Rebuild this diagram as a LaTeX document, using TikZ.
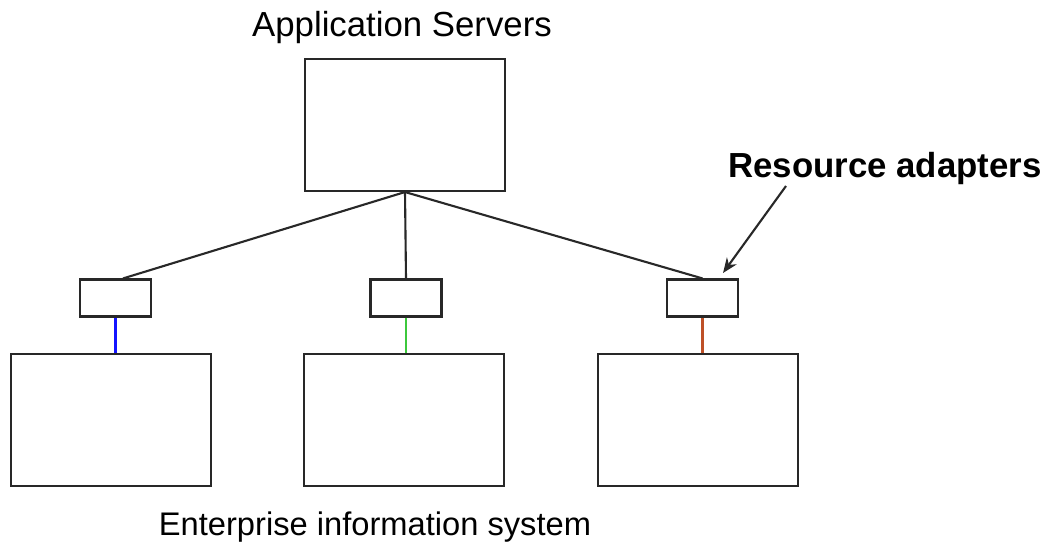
\documentclass[tikz,border=0pt]{standalone}
\usepackage{fontspec}
\setmainfont{Liberation Sans}
\usepackage{xcolor}
\usetikzlibrary{shapes,arrows,arrows.meta}

\definecolor{linkgreen}{RGB}{60,200,60}
\definecolor{linkbrown}{RGB}{190,80,40}
\definecolor{linkblue}{RGB}{20,20,255}
\definecolor{boxline}{RGB}{40,40,40}

\begin{document}
\begin{tikzpicture}[x=0.02cm, y=-0.02cm,
    bigbox/.style={rectangle, draw = boxline, line width=1.2pt, minimum width=4cm, minimum height=2.64cm, inner sep=0pt},
    adapter/.style={rectangle, draw = boxline, line width=1.2pt, minimum width=1.42cm, minimum height=0.74cm, inner sep=0pt},
    caption/.style={anchor=base, font=\fontsize{19.8}{23}\selectfont}]
    		\useasboundingbox (0,0) rectangle (1048,550);
    		\node (app)[bigbox] at (405,125) {};
    		\node (appl)[caption] at (402,37) {Application Servers};
    		
        	\node (ra1)[adapter] at (115.5,298) {};
        	\node (ra2)[adapter] at (406,298) {};
        	\node (ra3)[adapter] at (702.5,298) {};
        	\node (ral)[caption, font=\fontsize{19.8}{23}\selectfont\bfseries] at (885,178) {Resource adapters};
        	
        	\node (eis1)[bigbox] at (111,420) {};
        	\node (eis2)[bigbox] at (404,420) {};
        	\node (eis3)[bigbox] at (698,420) {};
        	\node (eisl)[caption, font=\fontsize{18.6}{23}\selectfont] at (375,535) {Enterprise information system};
        	
        	\coordinate (tail) at (786,186);
        	\coordinate (head) at (723,273);
        	
        	\draw[line width=1.2pt, boxline] (app.south) -- ([xshift=0.15cm]ra1.north);
        	\draw[line width=1.2pt, boxline] (app.south) -- (ra2.north);
        	\draw[line width=1.2pt, boxline] (app.south) -- (ra3.north);
        	\draw[line width=1.2pt, linkblue] (ra1.south) -- (ra1.south |- eis1.north);
        	\draw[line width=1.2pt, linkgreen] (ra2.south) -- (ra2.south |- eis2.north);
        	\draw[line width=1.2pt, linkbrown] (ra3.south) -- (ra3.south |- eis3.north);
        	\draw[-{Stealth[length=0.3cm, width=0.24cm]}, line width=1.2pt, boxline] (tail) -- (head);
        	
    	\end{tikzpicture}
\end{document}
